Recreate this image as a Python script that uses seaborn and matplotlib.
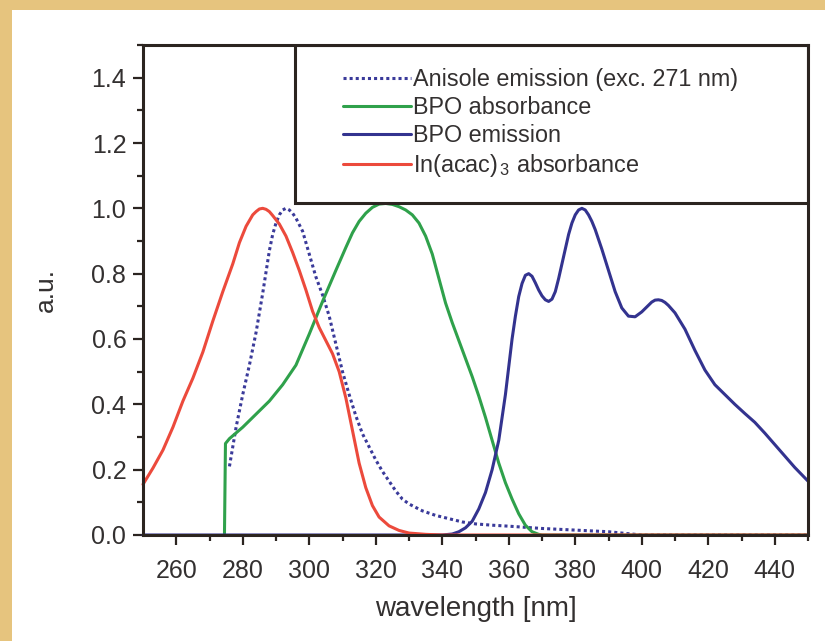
import numpy as np
import pandas as pd
import matplotlib
matplotlib.use("Agg")
import matplotlib.pyplot as plt
from matplotlib.patches import Rectangle
from matplotlib.lines import Line2D
import seaborn as sns

# ---------------- data ----------------
red_x = [250, 253, 256, 259, 262, 265, 268, 271, 274, 277, 279, 281, 283, 284, 285, 286,
         287, 288, 289, 290, 291, 293, 295, 297, 299, 301, 303, 305, 307, 309, 311, 313,
         315, 317, 319, 321, 324, 327, 330, 335, 340, 450]
red_y = [0.155, 0.205, 0.26, 0.33, 0.41, 0.48, 0.56, 0.655, 0.745, 0.83, 0.895, 0.945,
         0.98, 0.99, 0.998, 1.0, 0.997, 0.99, 0.978, 0.965, 0.952, 0.915, 0.865, 0.81,
         0.75, 0.685, 0.635, 0.595, 0.555, 0.50, 0.42, 0.32, 0.22, 0.145, 0.09, 0.055,
         0.028, 0.014, 0.006, 0.002, 0.0, 0.0]

anis_x = [276, 278, 280, 282, 284, 286, 288, 289, 290, 291, 292, 293, 294, 295, 296, 298,
          300, 302, 304, 306, 308, 310, 312, 314, 316, 318, 320, 322, 324, 326, 328, 330,
          334, 338, 342, 346, 350, 355, 360, 370, 380, 390, 395, 400, 450]
anis_y = [0.21, 0.33, 0.43, 0.52, 0.62, 0.74, 0.87, 0.92, 0.955, 0.98, 0.995, 1.0, 0.995,
          0.985, 0.97, 0.93, 0.86, 0.79, 0.735, 0.67, 0.585, 0.50, 0.43, 0.365, 0.31,
          0.27, 0.23, 0.195, 0.165, 0.135, 0.11, 0.095, 0.074, 0.06, 0.05, 0.04, 0.034,
          0.03, 0.027, 0.02, 0.015, 0.01, 0.005, 0.0, 0.0]

bpoabs_x = [274.5, 274.8, 276, 280, 284, 288, 292, 296, 300, 304, 308, 311, 313, 315, 317,
            319, 321, 323, 325, 327, 329, 331, 333, 335, 337, 339, 341, 343, 345, 347, 349,
            351, 353, 355, 357, 359, 361, 363, 365, 367, 369, 370, 450]
bpoabs_y = [0.0, 0.28, 0.295, 0.33, 0.37, 0.41, 0.46, 0.52, 0.615, 0.715, 0.81, 0.88,
            0.925, 0.96, 0.985, 1.003, 1.013, 1.015, 1.012, 1.005, 0.995, 0.98, 0.955,
            0.915, 0.86, 0.785, 0.71, 0.65, 0.595, 0.54, 0.485, 0.425, 0.36, 0.29, 0.22,
            0.16, 0.11, 0.065, 0.03, 0.01, 0.002, 0.0, 0.0]

bpoem_x = [250, 340, 343, 345, 347, 349, 351, 353, 355, 357, 359, 361, 362, 363, 364, 365,
           366, 367, 368, 369, 370, 371, 372, 373, 374, 375, 376, 377, 378, 379, 380, 381,
           382, 383, 384, 385, 386, 388, 390, 392, 394, 396, 398, 400, 402, 403, 404, 405,
           406, 407, 408, 410, 413, 416, 419, 422, 425, 428, 431, 434, 437, 440, 443, 446,
           450]
bpoem_y = [0.0, 0.0, 0.003, 0.01, 0.022, 0.042, 0.08, 0.13, 0.2, 0.29, 0.43, 0.6, 0.67,
           0.73, 0.77, 0.795, 0.80, 0.792, 0.772, 0.75, 0.732, 0.72, 0.715, 0.722, 0.745,
           0.785, 0.83, 0.875, 0.92, 0.955, 0.98, 0.995, 1.0, 0.995, 0.98, 0.96, 0.935,
           0.875, 0.81, 0.745, 0.695, 0.67, 0.668, 0.683, 0.703, 0.713, 0.719, 0.72, 0.718,
           0.712, 0.703, 0.68, 0.63, 0.565, 0.505, 0.46, 0.43, 0.40, 0.372, 0.345, 0.312,
           0.277, 0.242, 0.207, 0.165]

labels = ["Anisole emission (exc. 271 nm)", "BPO absorbance", "BPO emission",
          "In(acac)$_{\\,3}$ absorbance"]
x_ticks = [260, 280, 300, 320, 340, 360, 380, 400, 420, 440]
y_ticks = [0.0, 0.2, 0.4, 0.6, 0.8, 1.0, 1.2, 1.4]

# ---------------- style ----------------
sns.set_style("white")
plt.rcParams["font.family"] = ["Liberation Sans", "DejaVu Sans"]
plt.rcParams["mathtext.fontset"] = "custom"
plt.rcParams["mathtext.rm"] = "Liberation Sans"
plt.rcParams["mathtext.it"] = "Liberation Sans:italic"
plt.rcParams["mathtext.bf"] = "Liberation Sans:bold"

TXT = "#333030"
SPINE = "#2b2420"
C_RED = "#EC4A3C"
C_GREEN = "#2FA14B"
C_BLUE = "#33338F"
C_DOT = "#3A3A9A"

fig = plt.figure(figsize=(8.25, 6.41), dpi=100)
fig.patch.set_facecolor("#E6C47E")
fig.add_artist(Rectangle((12 / 825, 0), 1, 631 / 641, transform=fig.transFigure,
                         facecolor="white", edgecolor="none", zorder=0))

ax = fig.add_axes([143 / 825, (641 - 535) / 641, (808 - 143) / 825, (535 - 45) / 641])
ax.set_facecolor("white")
ax.set_zorder(1)

lw = 2.2
sns.lineplot(x=anis_x, y=anis_y, ax=ax, color=C_DOT, lw=lw, linestyle=(0, (1.0, 1.0)),
             sort=False, estimator=None)
sns.lineplot(x=bpoabs_x, y=bpoabs_y, ax=ax, color=C_GREEN, lw=lw, sort=False, estimator=None)
sns.lineplot(x=bpoem_x, y=bpoem_y, ax=ax, color=C_BLUE, lw=lw, sort=False, estimator=None)
sns.lineplot(x=red_x, y=red_y, ax=ax, color=C_RED, lw=lw, sort=False, estimator=None)
for l in ax.lines:
    l.set_solid_joinstyle("round")
    l.set_dash_joinstyle("round")
    l.set_clip_on(False)

ax.set_xlim(250, 450)
ax.set_ylim(0, 1.5)
ax.set_xticks(x_ticks)
ax.set_xticks([v + 10 for v in [250] + x_ticks], minor=True)
ax.set_yticks(y_ticks)
ax.set_yticks([v + 0.1 for v in y_ticks], minor=True)
ax.set_yticklabels([f"{v:.1f}" for v in y_ticks])
ax.set_xticklabels([str(v) for v in x_ticks])

for s in ax.spines.values():
    s.set_visible(True)
    s.set_color(SPINE)
    s.set_linewidth(2.2)
    s.set_zorder(5)

ax.tick_params(axis="both", which="major", direction="out", length=7, width=1.6,
               color=SPINE, labelsize=18, labelcolor=TXT, bottom=True, left=True,
               top=False, right=False)
ax.tick_params(axis="both", which="minor", direction="out", length=4.5, width=1.6,
               color=SPINE, bottom=True, left=True, top=False, right=False)
ax.tick_params(axis="x", which="major", pad=10)
ax.tick_params(axis="y", which="major", pad=5)

ax.set_xlabel("wavelength [nm]", fontsize=20, color=TXT, labelpad=10)
ax.set_ylabel("a.u.", fontsize=19, color=TXT, labelpad=24)

# legend box
ax.add_patch(Rectangle((0.2286, 0.678), 0.7714, 0.322, transform=ax.transAxes,
                       facecolor="white", edgecolor=SPINE, lw=2.2, zorder=4))
handles = [Line2D([], [], color=C_DOT, lw=lw, linestyle=(0, (1.0, 1.0))),
           Line2D([], [], color=C_GREEN, lw=lw),
           Line2D([], [], color=C_BLUE, lw=lw),
           Line2D([], [], color=C_RED, lw=lw)]
leg = ax.legend(handles, labels, loc="upper left",
                bbox_to_anchor=(343 / 825, (641 - 68) / 641),
                bbox_transform=fig.transFigure, frameon=False, fontsize=16.8,
                handlelength=2.9, handletextpad=0.12, labelspacing=0.22,
                borderpad=0, borderaxespad=0)
leg.set_zorder(6)
for t in leg.get_texts():
    t.set_color(TXT)

fig.savefig("out.png", dpi=100, facecolor=fig.get_facecolor())
